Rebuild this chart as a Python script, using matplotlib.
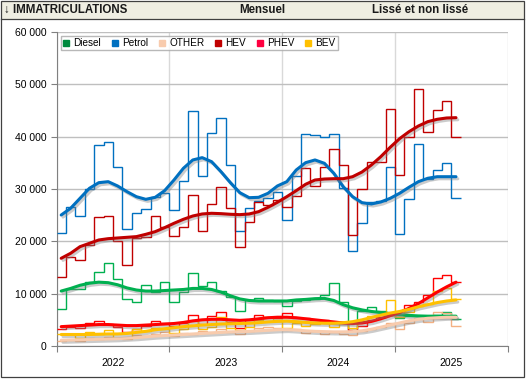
import numpy as np
import matplotlib
matplotlib.use("Agg")
import matplotlib.pyplot as plt
import matplotlib.patheffects as pe
from matplotlib.patches import Rectangle
from matplotlib.lines import Line2D
from matplotlib.ticker import FixedLocator, FuncFormatter, NullFormatter

# monthly registrations, Jan 2022 .. Jul 2025 (43 months)
years = ["2022", "2023", "2024", "2025"]
names = ["Diesel", "Petrol", "OTHER", "HEV", "PHEV", "BEV"]

diesel = [7070, 10830, 10800, 12200, 14080, 15800, 12800, 8950, 8500, 11650, 10300, 12170,
          8470, 10300, 13890, 11520, 12290, 10570, 9400, 6690, 8700, 9110, 8790, 8600,
          7640, 8660, 8800, 8900, 9750, 11980, 8470, 3060, 6690, 7510, 6690, 6000,
          5300, 5700, 5800, 5600, 6000, 6500, 5100]
petrol = [21500, 26500, 24800, 30060, 38350, 39050, 34150, 22360, 25480, 26180, 28410, 29300,
          26050, 31530, 44970, 32490, 40640, 43630, 34530, 21950, 26310, 27800, 28200, 29370,
          24080, 32550, 40450, 40320, 40000, 40450, 30130, 18150, 23450, 27580, 27770, 34150,
          21400, 28090, 38540, 31970, 33630, 34910, 28220]
other = [900, 1200, 1000, 1500, 1300, 1700, 1500, 1400, 2100, 1900, 2300, 2600,
         1900, 2500, 2300, 2800, 2600, 3300, 2700, 2300, 2900, 3400, 3600, 3500,
         3000, 3300, 2400, 2800, 2300, 2700, 2200, 2100, 2800, 3300, 3600, 4400,
         3200, 4400, 5300, 4500, 6500, 6300, 3800]
hev = [13150, 17070, 16430, 19240, 24620, 24780, 20030, 15540, 20570, 20770, 24780, 22740,
       21050, 22740, 28800, 21920, 27080, 30330, 26370, 18950, 23640, 27460, 26950, 27840,
       26500, 28600, 33950, 30520, 34150, 37590, 34530, 21150, 29940, 35100, 35100, 45230,
       32620, 39940, 49050, 40830, 45040, 46760, 40000]
phev = [3200, 3600, 3400, 4300, 4700, 4200, 3700, 2600, 3200, 3800, 4800, 4300,
        3900, 4400, 5900, 4200, 5800, 6500, 4650, 3400, 4970, 5900, 5500, 5400,
        6370, 5290, 5420, 5000, 4970, 4460, 4460, 3060, 3820, 4970, 5600, 6370,
        5920, 7770, 8470, 9750, 12930, 13570, 12170]
bev = [2300, 2300, 1600, 2600, 2300, 3100, 1500, 1500, 3200, 2900, 3500, 3300,
       2400, 3200, 4700, 3300, 3600, 5500, 3400, 3000, 3600, 4900, 5600, 5000,
       3400, 4300, 3900, 4200, 4700, 3700, 4500, 3400, 4800, 5800, 5900, 8700,
       5600, 6500, 7600, 8000, 10600, 11000, 9000]

# smoothed curves, same months
diesel_s = [10500, 11000, 11600, 12000, 12200, 12100, 11700, 11100, 10700, 10500, 10500, 10600,
            10700, 10800, 11000, 11000, 10800, 10300, 9600, 9000, 8700, 8600, 8600, 8600,
            8600, 8800, 8900, 9050, 9100, 8700, 7900, 7300, 6900, 6600, 6400, 6200,
            6000, 5850, 5750, 5700, 5700, 5700, 5700]
petrol_s = [25030, 26310, 28220, 30130, 31210, 31400, 30580, 29490, 28530, 28030, 28410, 29680,
            31720, 33960, 35550, 35990, 35220, 33310, 31210, 29300, 28340, 28410, 29180, 30580,
            31400, 33630, 35030, 35550, 34910, 33000, 30440, 28530, 27390, 27140, 27520, 28220,
            29180, 30330, 31400, 32050, 32350, 32350, 32350]
other_s = [1100, 1150, 1200, 1250, 1300, 1350, 1400, 1500, 1600, 1750, 1900, 2000,
           2100, 2200, 2300, 2400, 2500, 2600, 2700, 2750, 2800, 2900, 3000, 3100,
           3150, 3050, 2900, 2800, 2750, 2700, 2700, 2750, 2900, 3200, 3600, 4000,
           4400, 4800, 5100, 5300, 5400, 5500, 5500]
hev_s = [16760, 17710, 18980, 19620, 20260, 20510, 20640, 20770, 20900, 21340, 21850, 22610,
         23450, 24210, 24840, 25230, 25360, 25290, 25170, 25100, 25230, 25670, 26500, 27460,
         28530, 29680, 30900, 31720, 31910, 31970, 31970, 32350, 33250, 34590, 36180, 37970,
         39620, 40950, 42040, 42870, 43320, 43570, 43630]
phev_s = [3700, 3800, 3900, 4000, 4100, 4100, 4000, 3900, 3900, 4000, 4100, 4200,
          4300, 4500, 4800, 5000, 5100, 5100, 5000, 4900, 5000, 5200, 5400, 5500,
          5500, 5400, 5200, 5000, 4800, 4600, 4400, 4300, 4400, 4700, 5200, 5800,
          6400, 7200, 8100, 9200, 10300, 11300, 12200]
bev_s = [2200, 2200, 2200, 2200, 2250, 2300, 2300, 2400, 2600, 2800, 3100, 3300,
         3500, 3700, 3850, 4000, 4100, 4200, 4250, 4300, 4350, 4450, 4600, 4700,
         4750, 4650, 4500, 4400, 4350, 4350, 4450, 4650, 5000, 5450, 5900, 6300,
         6600, 7000, 7500, 7900, 8300, 8600, 8800]

step_colors = ["#00B050", "#0070C0", "#F4B183", "#C00000", "#FF0000", "#FFC000"]
smooth_colors = ["#00B050", "#0070C0", "#F8CBAD", "#C00000", "#FF0000", "#FFC000"]
legend_colors = ["#008A3E", "#0070C0", "#F8CBAD", "#C00000", "#FF0040", "#FFC000"]

raw = [diesel, petrol, other, hev, phev, bev]
smooth = [diesel_s, petrol_s, other_s, hev_s, phev_s, bev_s]

W, H = 526, 384
fig = plt.figure(figsize=(W / 100, H / 100), dpi=100)
plt.rcParams["font.family"] = ["Liberation Sans", "DejaVu Sans"]

# header strip and frame
fig.patches.append(Rectangle((1 / W, 1 - 19 / H), 523 / W, 18 / H, transform=fig.transFigure,
                             facecolor="#EFEEE2", edgecolor="none", zorder=0))
fig.add_artist(Line2D([1 / W, 524 / W], [1 - 19 / H, 1 - 19 / H], color="#404040", lw=0.9))
fig.patches.append(Rectangle((1 / W, 1 - 377 / H), 523 / W, 376 / H, transform=fig.transFigure,
                             facecolor="none", edgecolor="#404040", lw=0.9, zorder=5))
fig.text(4 / W, 1 - 10 / H, "\u2193 IMMATRICULATIONS", fontsize=8.3, fontweight="bold",
         va="center", ha="left", color="#1a1a1a")
fig.text(262 / W, 1 - 10 / H, "Mensuel", fontsize=8.3, fontweight="bold", va="center",
         ha="center", color="#1a1a1a")
fig.text(420 / W, 1 - 10 / H, "Lissé et non lissé", fontsize=8.3, fontweight="bold",
         va="center", ha="center", color="#1a1a1a")

ax = fig.add_axes([56.5 / W, 1 - 346 / H, 451.2 / W, 314 / H])
n = len(petrol)
edges = np.arange(n + 1)
centers = np.arange(n) + 0.5

for vals, col in zip(raw, step_colors):
    ax.stairs(vals, edges, baseline=None, color=col, lw=1.0, zorder=3)

shadow = [pe.SimpleLineShadow(offset=(1.3, -1.5), shadow_color="#7f7f7f", alpha=0.4),
          pe.Normal()]
for vals, col in zip(smooth, smooth_colors):
    ax.plot(centers, vals, color=col, lw=2.2, solid_capstyle="round", solid_joinstyle="round",
            path_effects=shadow, zorder=4)

ax.set_xlim(0, 48)
ax.set_ylim(0, 60000)
ax.xaxis.set_major_locator(FixedLocator([0, 12, 24, 36, 48]))
ax.xaxis.set_major_formatter(NullFormatter())
ax.xaxis.set_minor_locator(FixedLocator([6, 18, 30, 42]))
ax.xaxis.set_minor_formatter(FuncFormatter(lambda v, p: years[int(v) // 12]))
ax.tick_params(axis="x", which="major", length=4, color="#808080", direction="out")
ax.tick_params(axis="x", which="minor", length=0, labelsize=7.5, pad=9)
ax.set_yticks(np.arange(0, 60001, 10000))
ax.yaxis.set_major_formatter(FuncFormatter(lambda v, p: f"{int(v):,}".replace(",", " ")))
ax.tick_params(axis="y", length=4, color="#808080", labelsize=7.5, pad=3)
ax.grid(axis="y", color="#BFBFBF", lw=1.0)
ax.grid(axis="x", which="major", color="#D9D9D9", lw=1.0)
ax.set_axisbelow(True)
for s in ["top", "right"]:
    ax.spines[s].set_visible(False)
ax.spines["left"].set_color("#808080")
ax.spines["bottom"].set_color("#808080")

handles = [Line2D([], [], marker="s", ls="none", color=c, markersize=4.5) for c in legend_colors]
leg = ax.legend(handles, names, ncol=6, loc="upper left",
                bbox_to_anchor=((61 - 56.5) / 451.2, (346 - 36) / 314),
                fontsize=7.2, frameon=True, fancybox=False, edgecolor="#A6A6A6",
                handlelength=0.6, handletextpad=0.45, columnspacing=1.05, borderpad=0.2,
                borderaxespad=0)
leg.get_frame().set_linewidth(1.0)

fig.savefig("out.png", dpi=100)
